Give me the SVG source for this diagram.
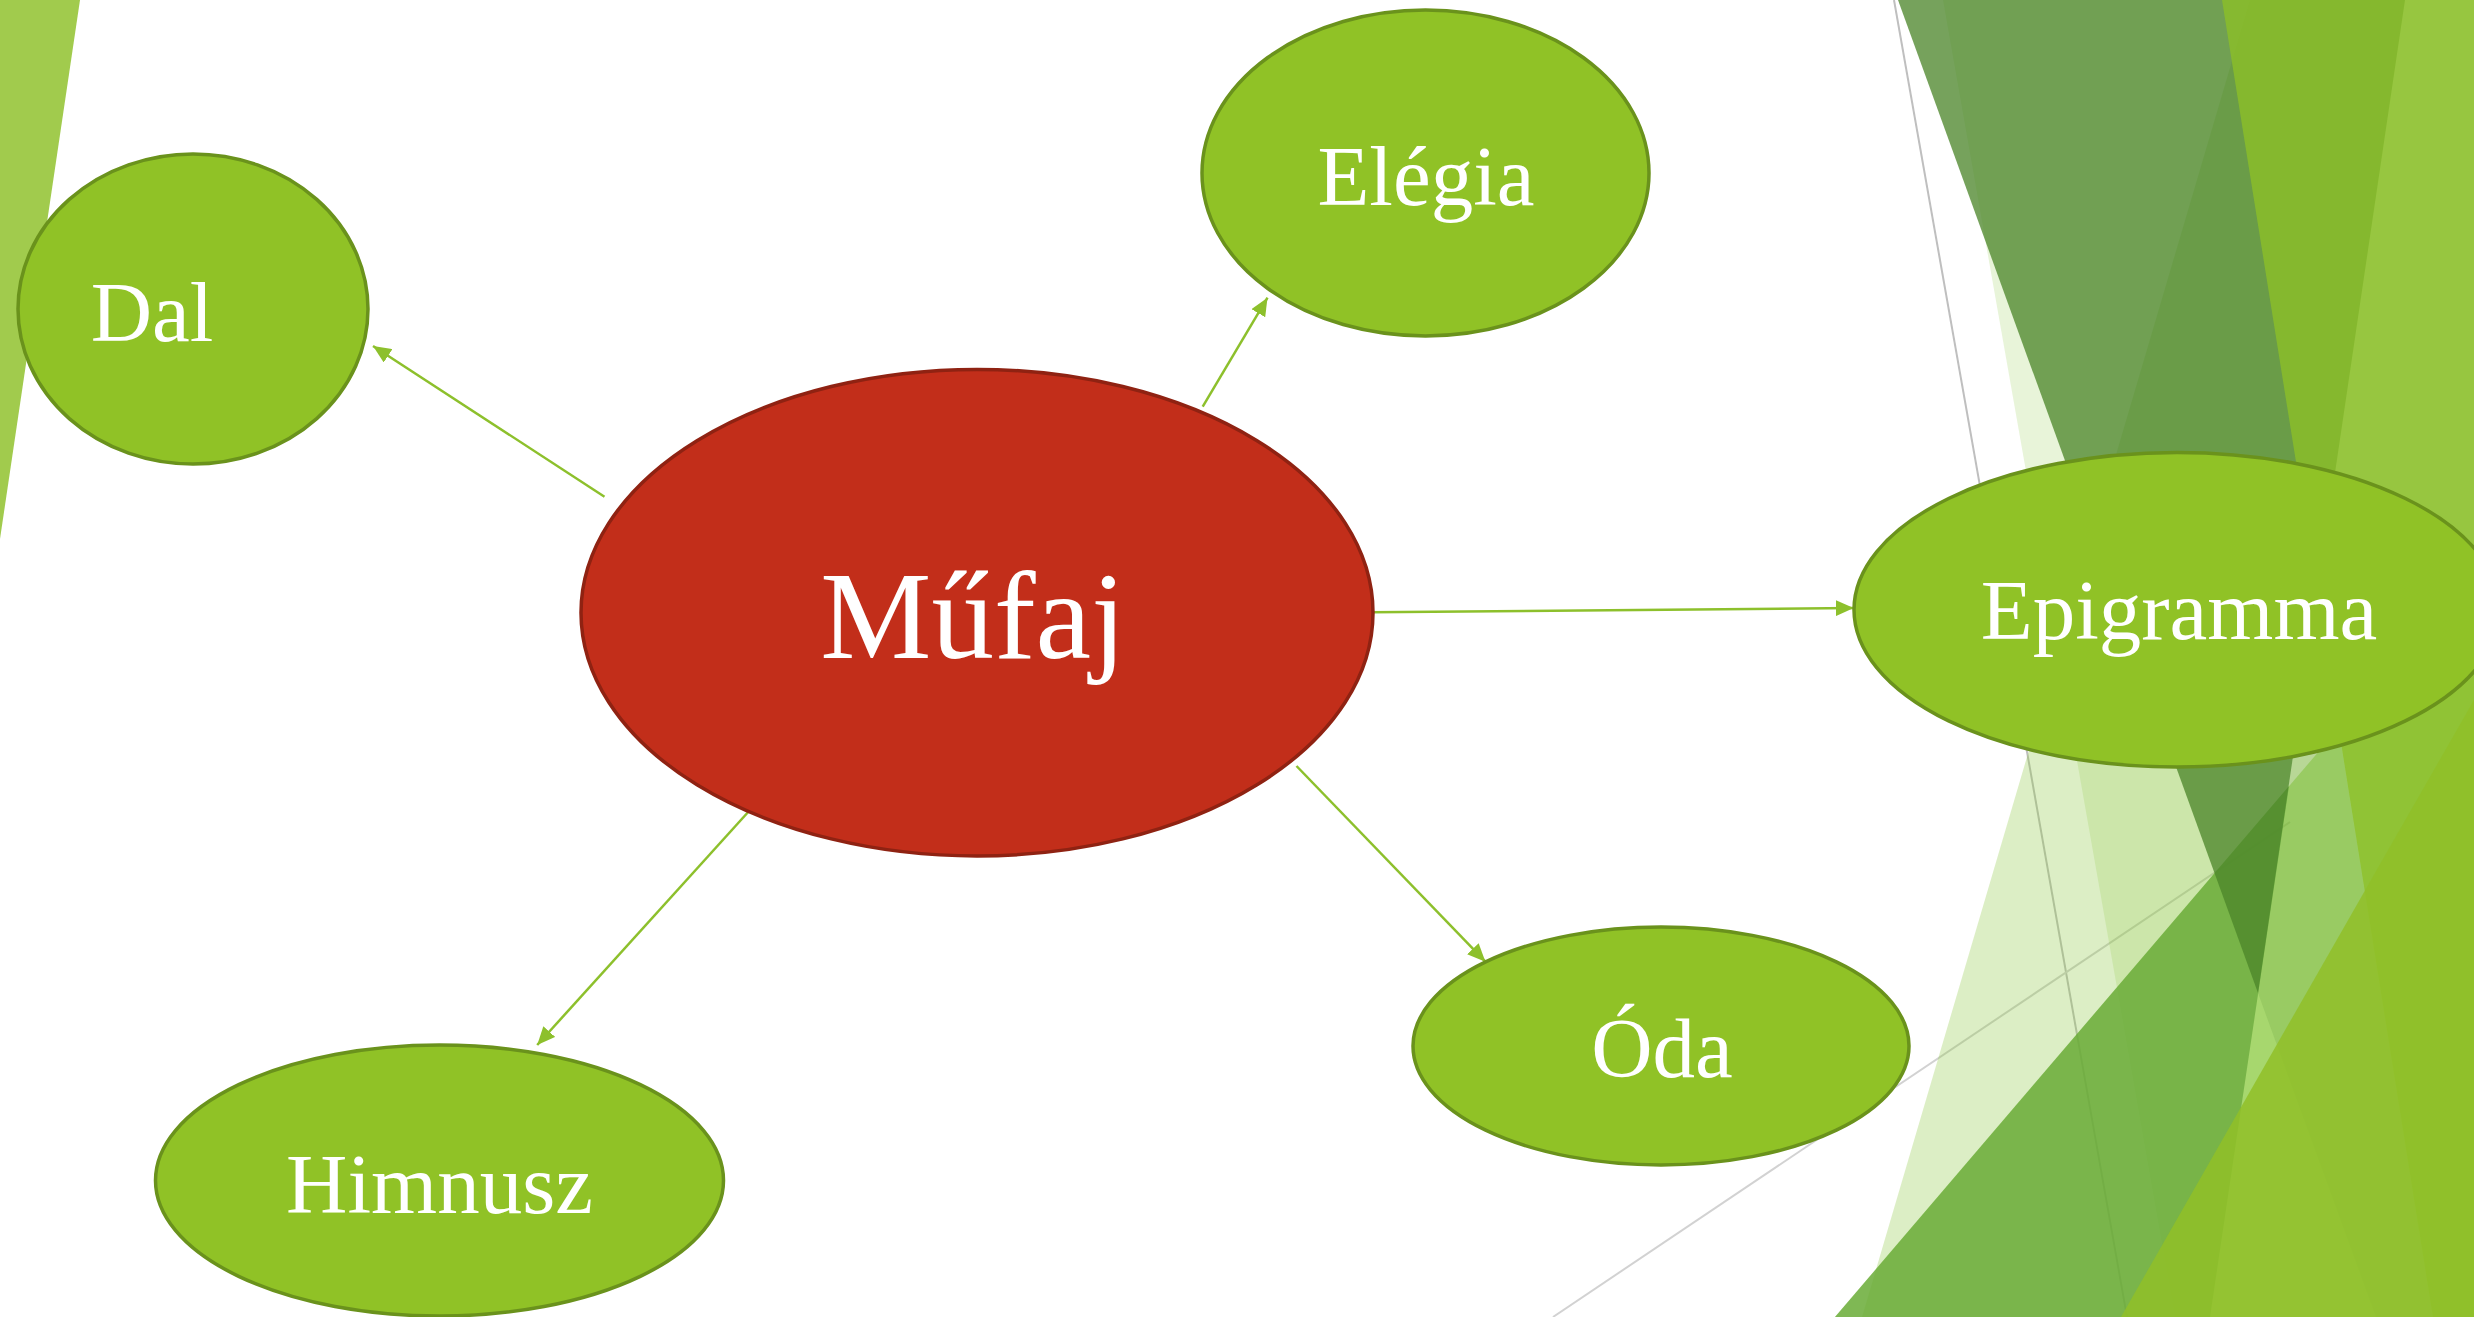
<svg xmlns="http://www.w3.org/2000/svg" width="2474" height="1317" viewBox="0 0 2474 1317">
  <style>
    .leaf { fill: #90C226; stroke: #6A921C; stroke-width: 3.5; }
    .core { fill: #C22E1A; stroke: #8F2212; stroke-width: 3.5; }
    .lbl { font-family: "Liberation Serif", "Times New Roman", serif; fill: #FFFFFF; text-anchor: middle; }
    .small { font-size: 85px; }
    .big { font-size: 125px; }
    .conn { stroke: #8DC02C; stroke-width: 2.5; fill: none; marker-end: url(#arr); }
    .gray1 { stroke: #BFBFBF; stroke-width: 2; fill: none; }
    .gray2 { stroke: #D2D2D2; stroke-width: 2; fill: none; }
  </style>
  <defs>
    <marker id="arr" viewBox="0 0 18 16" refX="18" refY="8" markerWidth="18" markerHeight="16" orient="auto" markerUnits="userSpaceOnUse">
      <path d="M0,0 L18,8 L0,16 z" fill="#8DC02C"/>
    </marker>
  </defs>

  <rect x="0" y="0" width="2474" height="1317" fill="#FFFFFF"/>

  <g id="decoration">
    <polygon points="0,0 80,0 0,539" fill="#A1CB4D"/>
    <line class="gray1" x1="1894" y1="0" x2="2127" y2="1317"/>
    <line class="gray2" x1="1553" y1="1317" x2="2290" y2="822"/>
    <polygon points="1943,0 2474,0 2474,1317 2175,1317" fill="#8CC63F" fill-opacity="0.2"/>
    <polygon points="2250,0 2474,0 2474,1317 1862,1317" fill="#8CC63F" fill-opacity="0.3"/>
    <polygon points="1835,1317 2474,570 2474,1317" fill="rgb(130,200,50)" fill-opacity="0.5"/>
    <polygon points="1835,1317 2289,786 2210,1317" fill="rgb(100,165,55)" fill-opacity="0.7"/>
    <polygon points="1898,0 2405,0 2258,993" fill="#4B8529" fill-opacity="0.76"/>
    <polygon points="2222,0 2474,0 2474,1317 2433,1317" fill="#8BBE28" fill-opacity="0.82"/>
    <polygon points="2317,594 2433,1317 2376,1317 2258,993" fill="#4B8529" fill-opacity="0.15"/>
    <polygon points="2121,1317 2474,700 2474,1317" fill="rgb(145,192,40)" fill-opacity="0.85"/>
  </g>

  <g id="connectors">
    <line class="conn" x1="604.5" y1="496.7" x2="373" y2="346"/>
    <line class="conn" x1="1202.7" y1="406.7" x2="1267.5" y2="297.7"/>
    <line class="conn" x1="1371.5" y1="612.3" x2="1853.7" y2="608"/>
    <line class="conn" x1="1296.5" y1="766" x2="1485.4" y2="961.7"/>
    <line class="conn" x1="750" y1="810" x2="537.2" y2="1045"/>
  </g>

  <g id="node-mufaj">
    <ellipse class="core" cx="977" cy="612.7" rx="396" ry="243.3"/>
    <text class="lbl big" x="973" y="658">Műfaj</text>
  </g>
  <g id="node-dal">
    <ellipse class="leaf" cx="193" cy="309" rx="175" ry="155"/>
    <text class="lbl small" x="152" y="341">Dal</text>
  </g>
  <g id="node-elegia">
    <ellipse class="leaf" cx="1425.5" cy="173" rx="223.5" ry="163"/>
    <text class="lbl small" x="1426" y="205">Elégia</text>
  </g>
  <g id="node-epigramma">
    <ellipse class="leaf" cx="2177" cy="609.7" rx="323" ry="157.3"/>
    <text class="lbl small" x="2179" y="639">Epigramma</text>
  </g>
  <g id="node-oda">
    <ellipse class="leaf" cx="1661" cy="1046" rx="248" ry="119"/>
    <text class="lbl small" x="1662" y="1077">Óda</text>
  </g>
  <g id="node-himnusz">
    <ellipse class="leaf" cx="439.5" cy="1180.5" rx="284" ry="135.5"/>
    <text class="lbl small" x="439.5" y="1213">Himnusz</text>
  </g>
</svg>
